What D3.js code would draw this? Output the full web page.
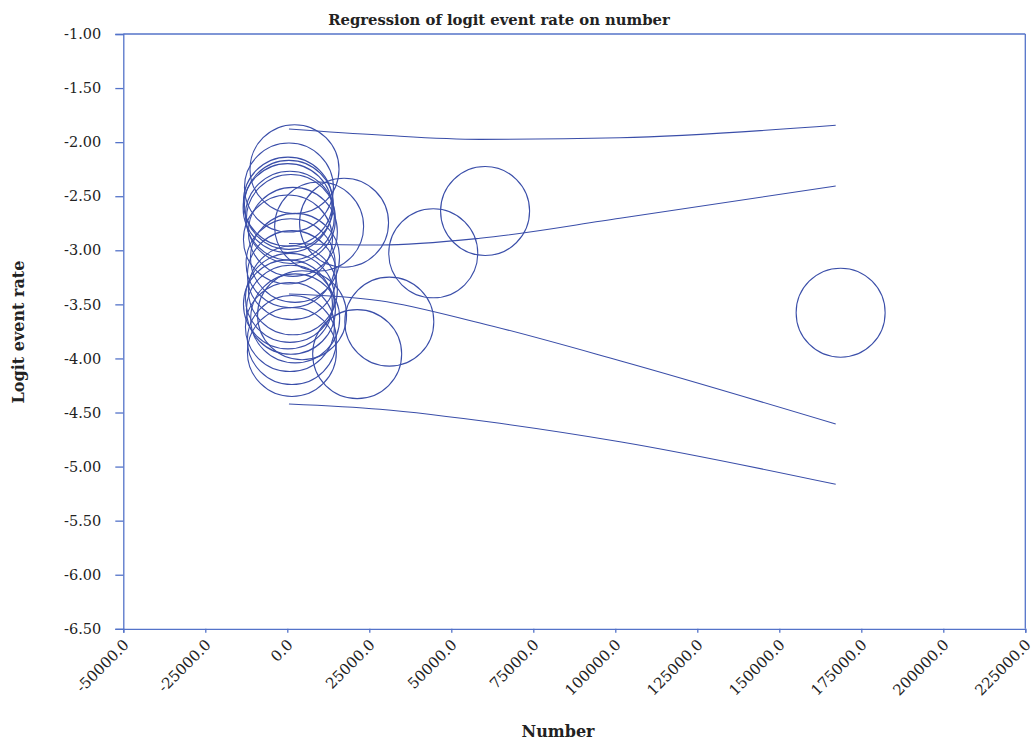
<!DOCTYPE html>
<html>
<head>
<meta charset="utf-8">
<script src="https://cdn.jsdelivr.net/npm/d3@7"></script>
<style>
  body { margin: 0; background: #fff; }
  text { font-family: "DejaVu Serif", serif; fill: #222; }
</style>
</head>
<body>
<div id="chart"></div>
<script>
// study points (number, logit event rate)
var studyNumber = [2200, 500, 200, 500, 100, 800, 1100, 1700, 200, 9700, 17300,
                   2350, 1000, 1400, 1700, 800, 200, 1100, 2400, 800, 1400, 1400,
                   4500, 31100, 21300, 44500, 60300, 168700];
var studyLogit  = [-2.25, -2.42, -2.55, -2.58, -2.61, -2.68, -2.71, -2.83, -2.90, -2.78, -2.745,
                   -3.07, -3.12, -3.23, -3.37, -3.44, -3.50, -3.55, -3.63, -3.71, -3.83, -3.94,
                   -3.60, -3.66, -3.96, -3.028, -2.637, -3.577];

// interval curves
var curveX        = [500, 28260, 58750, 101400, 167200];
var upperPred     = [-1.878, -1.934, -1.974, -1.959, -1.844];
var upperCI       = [-2.937, -2.951, -2.889, -2.704, -2.405];
var lowerCI       = [-3.404, -3.466, -3.672, -4.021, -4.606];
var lowerPredX    = [500, 28260, 64800, 101400, 167200];
var lowerPred     = [-4.421, -4.470, -4.600, -4.770, -5.164];

var xTicks = [-50000, -25000, 0, 25000, 50000, 75000, 100000, 125000, 150000, 175000, 200000, 225000];
var yTicks = [-1.0, -1.5, -2.0, -2.5, -3.0, -3.5, -4.0, -4.5, -5.0, -5.5, -6.0, -6.5];

var axisColor = '#5473c9';
var markColor = '#3a4ea9';

var width = 1034, height = 746;
var plotLeft = 123.3, plotRight = 1025.3, plotTop = 34, plotBottom = 628.8;

// hyphen minus like the original
var locale = d3.formatLocale({decimal: '.', thousands: ',', grouping: [3], currency: ['', ''], minus: '-'});

var svg = d3.select('#chart').append('svg')
  .attr('width', width)
  .attr('height', height);

var x = d3.scaleLinear().domain([-50000, 225000]).range([plotLeft, plotRight]);
var y = d3.scaleLinear().domain([-6.5, -1.0]).range([plotBottom, plotTop]);

// frame: top and right edges
svg.append('line')
  .attr('x1', plotLeft).attr('x2', plotRight).attr('y1', plotTop).attr('y2', plotTop)
  .style('stroke', axisColor).style('stroke-width', 1.3);
svg.append('line')
  .attr('x1', plotRight).attr('x2', plotRight).attr('y1', plotTop).attr('y2', plotBottom)
  .style('stroke', axisColor).style('stroke-width', 1.3);

// y axis
var yAxis = svg.append('g')
  .attr('transform', 'translate(' + plotLeft + ',0)')
  .call(d3.axisLeft(y).tickValues(yTicks).tickFormat(locale.format('.2f')).tickSize(8).tickPadding(14));
yAxis.selectAll('path, line').style('stroke', axisColor).style('stroke-width', 1.3);
yAxis.selectAll('text').style('font-size', '14.5px').style('font-family', '"DejaVu Serif", serif').style('fill', '#222');

// x axis
var xAxis = svg.append('g')
  .attr('transform', 'translate(0,' + plotBottom + ')')
  .call(d3.axisBottom(x).tickValues(xTicks).tickFormat(locale.format('.1f')).tickSize(4));
xAxis.selectAll('path, line').style('stroke', axisColor).style('stroke-width', 1.3);
xAxis.selectAll('text')
  .style('font-size', '15px').style('font-family', '"DejaVu Serif", serif').style('fill', '#222')
  .attr('text-anchor', 'end')
  .attr('dy', null)
  .attr('y', 0)
  .attr('transform', 'translate(6,17) rotate(-45)');

// interval lines
var line = d3.line()
  .x(function(d) { return x(d[0]); })
  .y(function(d) { return y(d[1]); })
  .curve(d3.curveMonotoneX);

var curves = [
  d3.zip(curveX, upperPred),
  d3.zip(curveX, upperCI),
  d3.zip(curveX, lowerCI),
  d3.zip(lowerPredX, lowerPred)
];

svg.selectAll('.band')
  .data(curves)
  .enter().append('path')
  .attr('class', 'band')
  .attr('d', line)
  .style('fill', 'none')
  .style('stroke', markColor)
  .style('stroke-width', 1.1);

// study bubbles
svg.selectAll('.study')
  .data(d3.zip(studyNumber, studyLogit))
  .enter().append('circle')
  .attr('class', 'study')
  .attr('cx', function(d) { return x(d[0]); })
  .attr('cy', function(d) { return y(d[1]); })
  .attr('r', 44.5)
  .style('fill', 'none')
  .style('stroke', markColor)
  .style('stroke-width', 1.1);

// titles
svg.append('text')
  .attr('x', 499).attr('y', 25)
  .attr('text-anchor', 'middle')
  .style('font-weight', 'bold').style('font-size', '14.8px')
  .text('Regression of logit event rate on number');

svg.append('text')
  .attr('x', 558).attr('y', 737)
  .attr('text-anchor', 'middle')
  .style('font-weight', 'bold').style('font-size', '16px')
  .text('Number');

svg.append('text')
  .attr('transform', 'translate(24,332) rotate(-90)')
  .attr('text-anchor', 'middle')
  .style('font-weight', 'bold').style('font-size', '16px')
  .text('Logit event rate');
</script>
</body>
</html>
